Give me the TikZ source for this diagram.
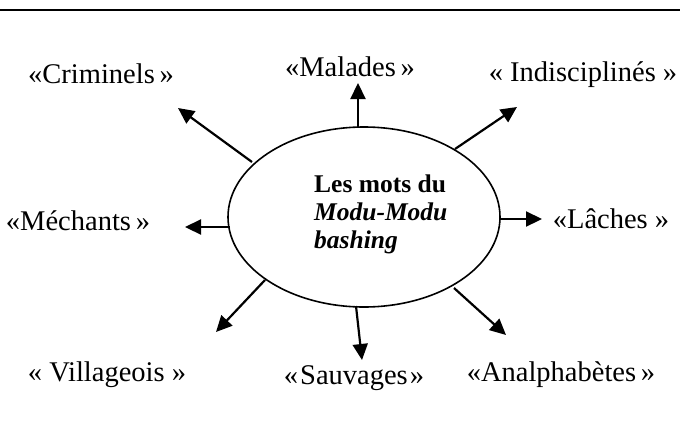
\documentclass[tikz,border=0pt]{standalone}
\usepackage{fontspec}
\setmainfont{Liberation Serif}
\usetikzlibrary{shapes.geometric,arrows.meta}
\begin{document}
\begin{tikzpicture}[x=1pt,y=-1pt,
  lbl/.style={anchor=base,inner sep=0pt,font=\fontsize{28.5}{30}\selectfont},
  arr/.style={line width=2.2pt,-{Triangle[length=16pt,width=15pt]}},
  bubble/.style={ellipse,draw,line width=1.6pt,minimum width=272pt,minimum height=180pt,inner sep=0pt}]
\useasboundingbox (0,0) rectangle (680,421);
\draw[line width=2pt] (0,10) -- (680,10);
\node[bubble] (E) at (364,217) {};
\node[anchor=base west,align=left,inner sep=0pt,font=\fontsize{25.5}{28}\selectfont\bfseries] (T) at (314,248)
  {Les mots du\\ \textit{Modu-Modu}\\ \textit{bashing}};
% labels
\node[lbl] (crim) at (101,83) {«Criminels\,»};
\node[lbl] (mal) at (350,76) {«Malades\,»};
\node[lbl] (ind) at (583,81) {« Indisciplinés »};
\node[lbl] (mech) at (78,230) {«Méchants\,»};
\node[lbl] (lach) at (611,228) {«Lâches »};
\node[lbl] (vill) at (107,381) {« Villageois »};
\node[lbl] (sauv) at (354,384) {«\kern2pt Sauvages\kern2pt»};
\node[lbl] (anal) at (561,381) {«Analphabètes\,»};
% arrow ends
\coordinate (s1) at (252,162); \coordinate (t1) at (178,108);
\coordinate (s2) at (358,127); \coordinate (t2) at (358,83);
\coordinate (s3) at (455,149); \coordinate (t3) at (517,107);
\coordinate (s4) at (230,227); \coordinate (t4) at (185,227);
\coordinate (s5) at (499,219); \coordinate (t5) at (542,219);
\coordinate (s6) at (265,280); \coordinate (t6) at (216,332);
\coordinate (s7) at (356,306); \coordinate (t7) at (362,360);
\coordinate (s8) at (454,288); \coordinate (t8) at (506,335);
\foreach \i in {1,...,8} \draw[arr] (s\i) -- (t\i);
\end{tikzpicture}
\end{document}
